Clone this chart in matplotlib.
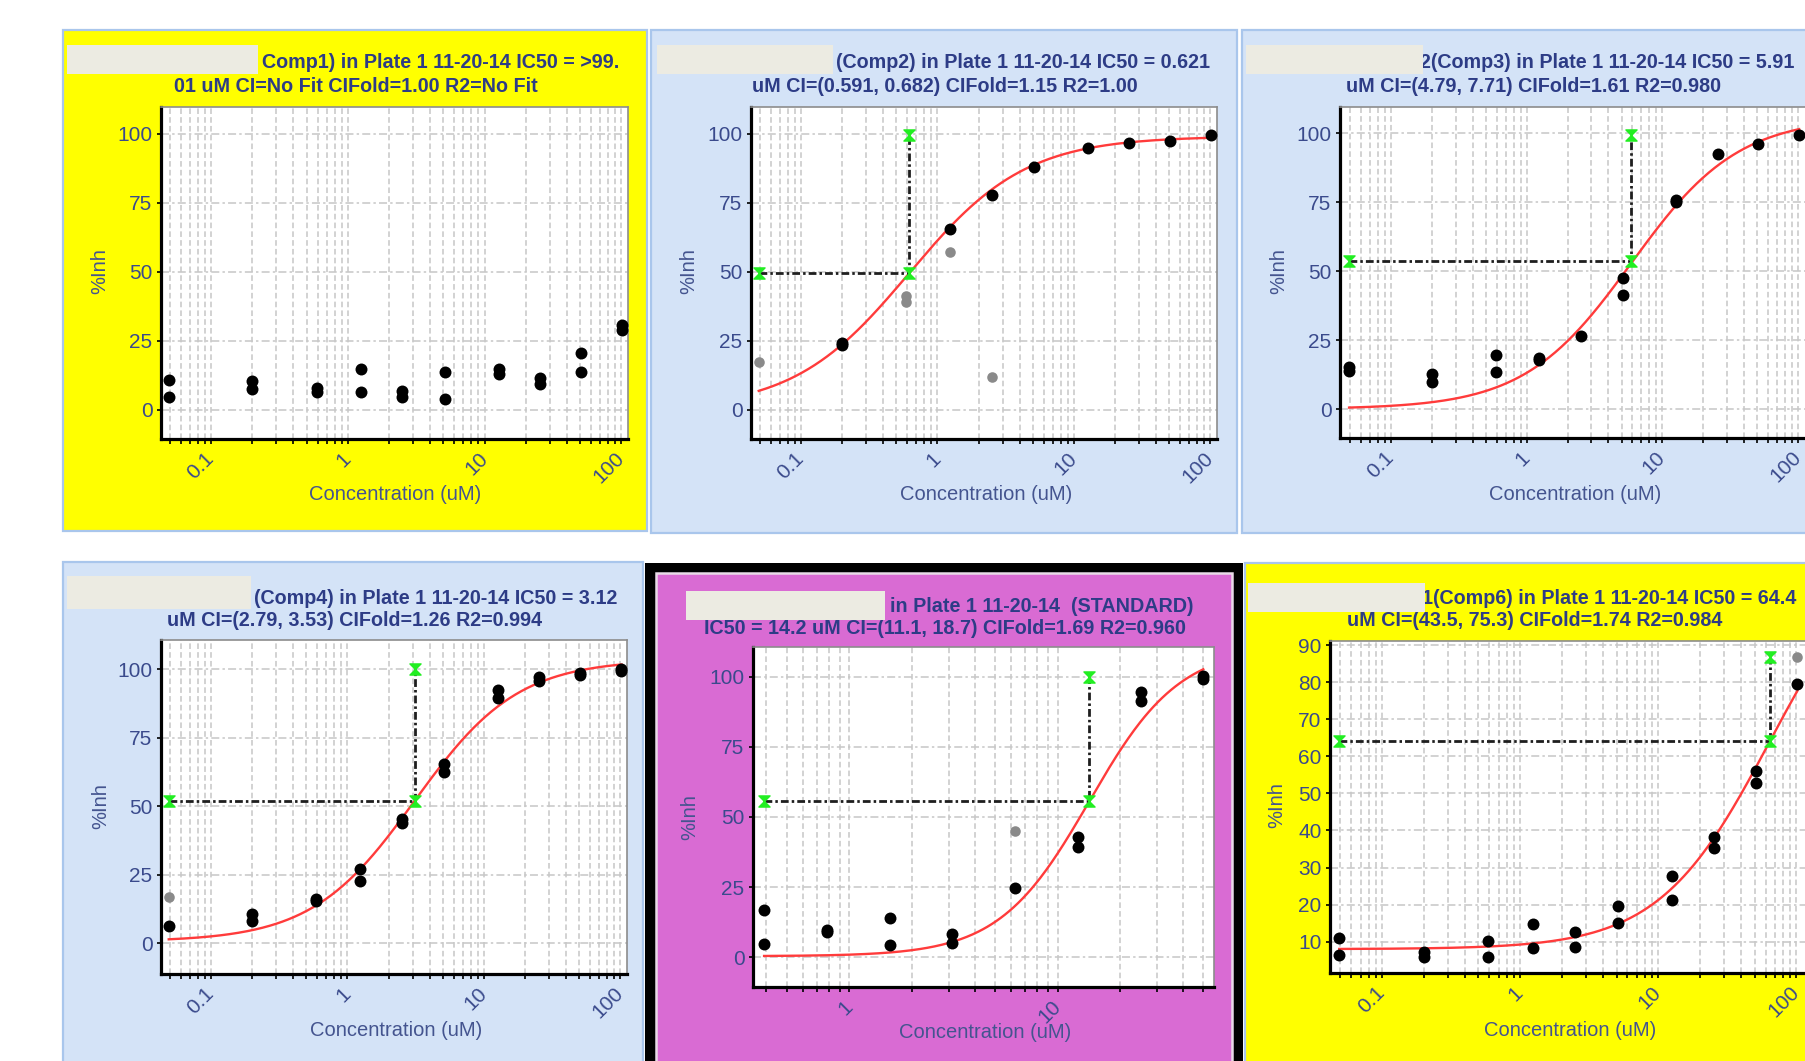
import numpy as np
import matplotlib
matplotlib.use("Agg")
import matplotlib.pyplot as plt
from matplotlib.patches import Rectangle
from matplotlib.path import Path
from matplotlib.ticker import LogLocator, NullFormatter

plt.rcParams['font.family'] = ['Liberation Sans', 'DejaVu Sans']

W, H = 1806, 1061

# ---- data ----
comp1_x = [0.049, 0.049, 0.2, 0.2, 0.59, 0.59, 1.24, 1.24, 2.5, 2.5, 5.1, 5.1,
           12.7, 12.7, 25.5, 25.5, 51, 51, 102, 102]
comp1_y = [10.9, 4.6, 10.6, 7.5, 8.1, 6.4, 15.0, 6.4, 6.9, 4.8, 13.8, 3.9,
           15.0, 12.9, 11.5, 9.4, 20.6, 13.9, 30.8, 29.0]

comp2_x = [0.2, 0.2, 1.24, 2.5, 5.1, 12.7, 25.5, 51, 102]
comp2_y = [24.2, 23.4, 65.3, 77.8, 87.9, 94.9, 96.7, 97.3, 99.4]
comp2_out_x = [0.049, 0.59, 0.59, 1.24, 2.5]
comp2_out_y = [17.5, 41.1, 38.9, 57.1, 12.1]

comp3_x = [0.049, 0.049, 0.2, 0.2, 0.59, 0.59, 1.24, 1.24, 2.5, 5.1, 5.1,
           12.7, 12.7, 25.5, 51, 102]
comp3_y = [15.1, 13.9, 12.7, 9.9, 19.6, 13.3, 18.7, 17.8, 26.6, 47.5, 41.5,
           75.8, 75.0, 92.5, 96.1, 99.4]

comp4_x = [0.049, 0.2, 0.2, 0.59, 0.59, 1.24, 1.24, 2.5, 2.5, 5.1, 5.1,
           12.7, 12.7, 25.5, 25.5, 51, 51, 102, 102]
comp4_y = [6.1, 10.7, 7.9, 16.0, 15.2, 27.0, 22.7, 45.3, 43.7, 65.4, 62.3,
           92.3, 89.3, 97.0, 95.7, 98.4, 97.8, 100.0, 99.4]
comp4_out_x = [0.049]
comp4_out_y = [16.8]

std_x = [0.39, 0.39, 0.78, 0.78, 1.56, 1.56, 3.125, 3.125, 6.25, 12.5, 12.5,
         25, 25, 50, 50]
std_y = [16.9, 4.8, 9.5, 9.0, 14.1, 4.4, 8.4, 5.0, 24.7, 42.7, 39.4,
         94.5, 91.3, 100.2, 99.3]
std_out_x = [6.25]
std_out_y = [45.1]

comp6_x = [0.049, 0.049, 0.2, 0.2, 0.59, 0.59, 1.24, 1.24, 2.5, 2.5, 5.1, 5.1,
           12.7, 12.7, 25.5, 25.5, 51, 51, 102]
comp6_y = [10.9, 6.4, 7.3, 6.0, 10.2, 6.0, 14.7, 8.2, 12.5, 8.5, 19.7, 15.1,
           27.8, 21.2, 38.3, 35.2, 56.1, 52.9, 79.5]
comp6_out_x = [102]
comp6_out_y = [86.9]

# 4PL fit parameters per panel (panel 1 has no fit)
fit_bottom = [None, 0.0, 0.0, 0.5, 0.3, 8.0]
fit_top = [None, 99.0, 106.0, 103.5, 111.0, 120.0]
fit_ic50 = [None, 0.621, 5.91, 3.12, 14.2, 64.4]
fit_hill = [None, 1.02, 1.1, 1.15, 2.0, 1.08]
half_y = [None, 49.5, 53.6, 52.0, 55.7, 64.1]
max_y = [None, 99.5, 99.3, 100.0, 100.0, 86.9]

pts_x = [comp1_x, comp2_x, comp3_x, comp4_x, std_x, comp6_x]
pts_y = [comp1_y, comp2_y, comp3_y, comp4_y, std_y, comp6_y]
out_x = [[], comp2_out_x, [], comp4_out_x, std_out_x, comp6_out_x]
out_y = [[], comp2_out_y, [], comp4_out_y, std_out_y, comp6_out_y]

title1 = ["Comp1) in Plate 1 11-20-14 IC50 = >99.",
          "(Comp2) in Plate 1 11-20-14 IC50 = 0.621",
          "2(Comp3) in Plate 1 11-20-14 IC50 = 5.91",
          "(Comp4) in Plate 1 11-20-14 IC50 = 3.12",
          "in Plate 1 11-20-14  (STANDARD)",
          "1(Comp6) in Plate 1 11-20-14 IC50 = 64.4"]
title2 = ["01 uM CI=No Fit CIFold=1.00 R2=No Fit",
          "uM CI=(0.591, 0.682) CIFold=1.15 R2=1.00",
          "uM CI=(4.79, 7.71) CIFold=1.61 R2=0.980",
          "uM CI=(2.79, 3.53) CIFold=1.26 R2=0.994",
          "IC50 = 14.2 uM CI=(11.1, 18.7) CIFold=1.69 R2=0.960",
          "uM CI=(43.5, 75.3) CIFold=1.74 R2=0.984"]

x_major = [0.1, 1, 10, 100]
x_major_lbl = ['0.1', '1', '10', '100']

# ---- layout (pixels of the 1806x1061 picture) ----
frames = [(63, 30, 647, 531), (651, 30, 1237, 533), (1242, 30, 1840, 533),
          (63, 562, 643, 1080), (645, 563, 1243, 1080), (1245, 563, 1840, 1080)]
faces = ['#ffff00', '#d4e3f7', '#d4e3f7', '#d4e3f7', '#d96bd3', '#ffff00']
axbox = [(161, 107, 628, 439), (751, 107, 1217, 439), (1340, 107, 1808, 438),
         (161, 640, 627, 974), (753, 647, 1214, 987), (1330, 641, 1810, 973)]
xlims = [(0.043, 112), (0.043, 112), (0.042, 118.5), (0.043, 112),
         (0.345, 56.3), (0.042, 126)]
ylims = [(-10.5, 109.6), (-10.5, 109.6), (-10.5, 109.6), (-11.3, 110.6),
         (-10.7, 110.7), (1.56, 91.1)]
redact = [(67, 45, 258, 74), (657, 45, 833, 74), (1246, 45, 1423, 74),
          (67, 576, 251, 609), (686, 591, 885, 620), (1248, 583, 1425, 612)]
t1_pos = [(619.5, 63), (1209.5, 63), (1794, 63), (617, 599), (1194, 607), (1796, 599)]
t2_pos = [(355.5, 87), (944.5, 87), (1534, 87), (355, 621), (945, 628), (1535, 621)]
ylab_pos = [(100, 271), (689, 271), (1279, 271), (101, 806), (690, 817), (1277, 805)]
xlab_pos = [(395, 495), (986, 495), (1575, 495), (396, 1030), (985, 1032), (1570, 1030)]

title_col = '#2d3c86'
tick_col = '#3a4a8c'
lab_col = '#44548f'


def frac(x0, y0, x1, y1):
    return [x0 / W, 1 - y1 / H, (x1 - x0) / W, (y1 - y0) / H]


def fpt(x, y):
    return x / W, 1 - y / H


hourglass = Path([(-1, 1), (1, 1), (-1, -1), (1, -1), (-1, 1)],
                 [Path.MOVETO, Path.LINETO, Path.LINETO, Path.LINETO, Path.CLOSEPOLY])

fig = plt.figure(figsize=(W / 100, H / 100), dpi=100)
fig.patch.set_facecolor('white')

for i in range(6):
    l, b, w, h = frac(*frames[i])
    if i == 4:
        fig.add_artist(Rectangle((l, b), w, h, transform=fig.transFigure,
                                 facecolor='black', edgecolor='none', zorder=-3))
        l, b, w, h = frac(656, 573, 1232, 1080)
        fig.add_artist(Rectangle((l, b), w, h, transform=fig.transFigure,
                                 facecolor=faces[i], edgecolor='#e9dbe8', lw=1.8, zorder=-2))
    else:
        fig.add_artist(Rectangle((l, b), w, h, transform=fig.transFigure,
                                 facecolor=faces[i], edgecolor='#a9c6ec', lw=1.6, zorder=-2))

    ax = fig.add_axes(frac(*axbox[i]))
    ax.set_facecolor('white')
    ax.set_xscale('log')
    ax.set_xlim(*xlims[i])
    ax.set_ylim(*ylims[i])
    ax.set_axisbelow(True)

    mx = [(v, s) for v, s in zip(x_major, x_major_lbl) if xlims[i][0] <= v <= xlims[i][1]]
    ax.set_xticks([v for v, s in mx])
    ax.set_xticklabels([s for v, s in mx])
    ax.xaxis.set_minor_locator(LogLocator(base=10, subs=np.arange(2, 10), numticks=20))
    ax.xaxis.set_minor_formatter(NullFormatter())
    if i == 5:
        yt = [10, 20, 30, 40, 50, 60, 70, 80, 90]
    else:
        yt = [0, 25, 50, 75, 100]
    ax.set_yticks(yt)
    ax.set_yticklabels([str(v) for v in yt])

    ax.tick_params(axis='both', which='both', direction='out', color='black',
                   width=1.2, labelsize=15, labelcolor=tick_col)
    ax.tick_params(axis='x', which='both', length=3.5, pad=8.5)
    ax.tick_params(axis='y', which='major', length=3.2, pad=3.0)
    for lbl in ax.get_xticklabels():
        lbl.set_rotation(45)
        lbl.set_ha('right')
        lbl.set_va('center')
        lbl.set_rotation_mode('anchor')

    for side in ['left', 'bottom']:
        ax.spines[side].set_color('black')
        ax.spines[side].set_linewidth(2.3)
    for side in ['top', 'right']:
        ax.spines[side].set_color('#8c8c8c')
        ax.spines[side].set_linewidth(1.2)

    ax.grid(True, which='major', axis='y', color='#c8c8c8', lw=1.15,
            ls=(0, (5, 2, 1.5, 2)))
    ax.grid(True, which='both', axis='x', color='#c8c8c8', lw=1.15,
            ls=(0, (3.5, 2)))

    # fitted curve and IC50 guide
    if fit_ic50[i] is not None:
        xs = np.geomspace(min(pts_x[i] + out_x[i]), max(pts_x[i] + out_x[i]), 300)
        bt, tp, c, hl = fit_bottom[i], fit_top[i], fit_ic50[i], fit_hill[i]
        ax.plot(xs, bt + (tp - bt) / (1 + (c / xs) ** hl), color='#ff3b3b',
                lw=1.7, zorder=3, clip_on=True)
        x0 = min(pts_x[i] + out_x[i])
        ax.plot([x0, c, c], [half_y[i], half_y[i], max_y[i]], color='#1e1e1e',
                lw=2.0, ls=(0, (2.8, 1.1, 0.9, 1.1)), zorder=3)
        ax.plot([x0, c, c], [half_y[i], half_y[i], max_y[i]], ls='none',
                marker=hourglass, ms=8, color='#22ee22', mec='#22ee22',
                zorder=6, clip_on=False)

    ax.plot(out_x[i], out_y[i], 'o', color='#8a8a8a', ms=7.6, mec='none',
            zorder=4, clip_on=False)
    ax.plot(pts_x[i], pts_y[i], 'o', color='black', ms=8.6, mec='none',
            zorder=5, clip_on=False)

    # titles, redaction boxes and axis labels
    x, y = fpt(*t1_pos[i])
    fig.text(x, y, title1[i], ha='right', va='center', fontsize=14.2,
             fontweight='bold', color=title_col)
    x, y = fpt(*t2_pos[i])
    fig.text(x, y, title2[i], ha='center', va='center', fontsize=14.2,
             fontweight='bold', color=title_col)
    l, b, w, h = frac(*redact[i])
    fig.add_artist(Rectangle((l, b), w, h, transform=fig.transFigure,
                             facecolor='#ecebe2', edgecolor='none', zorder=10))
    x, y = fpt(*ylab_pos[i])
    fig.text(x, y, '%Inh', rotation=90, ha='center', va='center',
             fontsize=14.5, color=lab_col)
    x, y = fpt(*xlab_pos[i])
    fig.text(x, y, 'Concentration (uM)', ha='center', va='center',
             fontsize=14.5, color=lab_col)

fig.savefig('out.png', dpi=100)
